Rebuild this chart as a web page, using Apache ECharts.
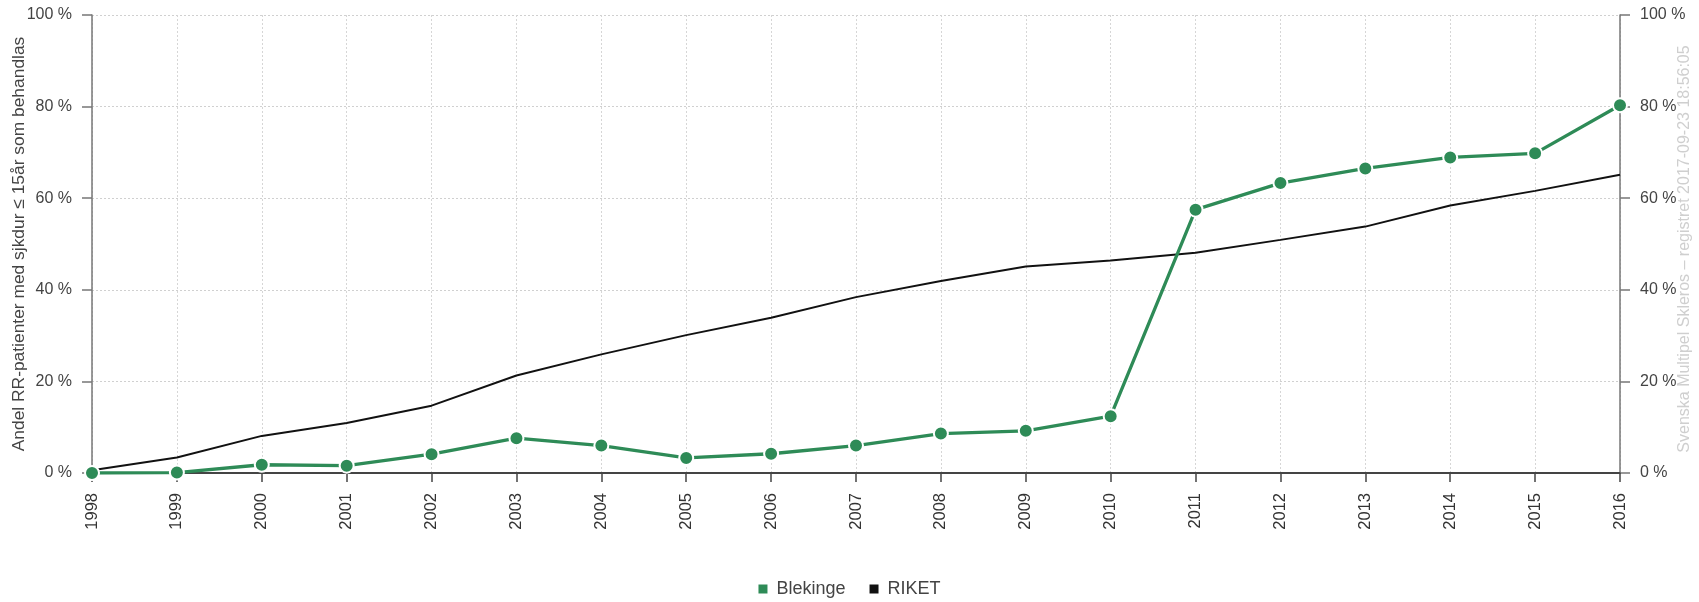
<!DOCTYPE html>
<html>
<head>
<meta charset="utf-8">
<script src="https://cdn.jsdelivr.net/npm/echarts@6/dist/echarts.min.js"></script>
<style>
html,body{margin:0;padding:0;background:#fff;}
#chart{width:1699px;height:602px;}
</style>
</head>
<body>
<div id="chart"></div>
<script>
var years = ['1998','1999','2000','2001','2002','2003','2004','2005','2006','2007','2008','2009','2010','2011','2012','2013','2014','2015','2016'];
var blekinge = [0, 0.1, 1.8, 1.6, 4.1, 7.6, 6.0, 3.3, 4.2, 6.0, 8.6, 9.2, 12.4, 57.5, 63.3, 66.5, 68.9, 69.8, 80.3];
var riket = [0.6, 3.4, 8.1, 10.9, 14.7, 21.3, 25.9, 30.1, 33.9, 38.4, 41.9, 45.1, 46.4, 48.1, 50.9, 53.8, 58.4, 61.6, 65.1];
var yTicks = [0, 20, 40, 60, 80, 100];
var seriesNames = ['Blekinge', 'RIKET'];
var yTitle = 'Andel RR-patienter med sjkdur \u2264 15år som behandlas';
var watermark = 'Svenska Multipel Skleros \u2013 registret 2017-09-23 18:56:05';

var FONT = 'Liberation Sans, Arial, sans-serif';
var chart = echarts.init(document.getElementById('chart'));
var yAxisBase = function (pos, withGrid, name) {
  return {
    type: 'value', position: pos, min: yTicks[0], max: yTicks[yTicks.length - 1], interval: 20,
    name: name || '', nameLocation: 'middle', nameGap: 64, nameMoveOverlap: false,
    nameTextStyle: { fontFamily: FONT, fontSize: 17.4, color: '#444' },
    axisLine: { show: true, lineStyle: { color: '#777', width: 1.5 } },
    axisTick: { show: true, length: 10, lineStyle: { color: '#777', width: 1.5 } },
    axisLabel: { fontFamily: FONT, fontSize: 16, color: '#444', margin: 20, formatter: '{value} %' },
    splitLine: { show: withGrid, lineStyle: { color: '#d0d0d0', type: [2, 2], width: 1 } }
  };
};
chart.setOption({
  animation: false,
  backgroundColor: '#fff',
  grid: { left: 92, right: 79, top: 15, bottom: 129, containLabel: false, outerBoundsMode: 'none' },
  legend: {
    data: [
      { name: seriesNames[0], itemStyle: { color: '#2e8b57', borderWidth: 0 } },
      { name: seriesNames[1], itemStyle: { color: '#111', borderWidth: 0 } }
    ],
    icon: 'rect', itemWidth: 9, itemHeight: 9, itemGap: 24,
    left: 'center', top: 575,
    textStyle: { fontFamily: FONT, fontSize: 18, color: '#444', padding: [0, 0, 0, 4] }
  },
  xAxis: {
    type: 'category', data: years, boundaryGap: false,
    axisLine: { show: true, lineStyle: { color: '#444', width: 2 } },
    axisTick: { show: true, length: 9, alignWithLabel: true, lineStyle: { color: '#444', width: 1.5 } },
    axisLabel: { rotate: 90, fontFamily: FONT, fontSize: 16.5, color: '#333', margin: 20, interval: 0 },
    splitLine: { show: true, lineStyle: { color: '#d6d6d6', type: [2, 2], width: 1 } }
  },
  yAxis: [yAxisBase('left', true, yTitle), yAxisBase('right', false)],
  graphic: [{
    type: 'text', x: 1685, y: 249, rotation: Math.PI / 2,
    style: { text: watermark, fill: '#cfcfcf', font: '16px ' + FONT, textAlign: 'center', textVerticalAlign: 'middle' }
  }],
  series: [
    {
      name: seriesNames[1], type: 'line', data: riket, yAxisIndex: 0, z: 2,
      showSymbol: false, symbol: 'none',
      lineStyle: { color: '#111', width: 2 }, itemStyle: { color: '#111' }
    },
    {
      name: seriesNames[0], type: 'line', data: blekinge, yAxisIndex: 0, z: 3,
      symbol: 'circle', symbolSize: 14, showSymbol: true,
      lineStyle: { color: '#2e8b57', width: 3.3 },
      itemStyle: { color: '#2e8b57', borderColor: '#fff', borderWidth: 2 }
    }
  ]
});
</script>
</body>
</html>
